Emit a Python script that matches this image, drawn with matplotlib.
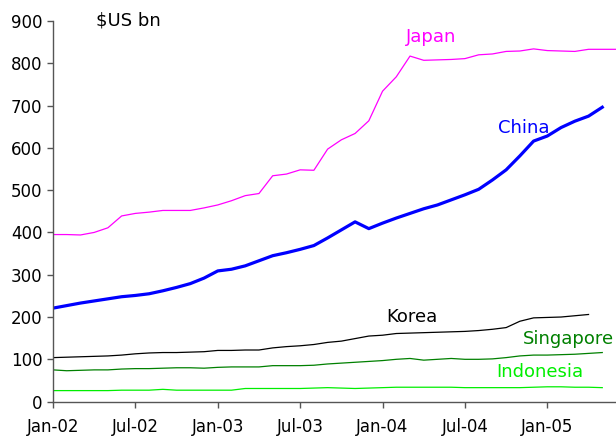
import matplotlib
matplotlib.use("Agg")
import matplotlib.pyplot as plt

# monthly reserves, $US bn, Jan-02 onward
months = list(range(42))
japan = [395, 395, 394, 400, 411, 439, 445, 448, 452, 452, 452, 458, 465, 475,
         487, 492, 534, 538, 548, 547, 597, 619, 634, 664, 734, 768, 817, 807,
         808, 809, 811, 820, 822, 828, 829, 834, 830, 829, 828, 833, 833, 833]
china = [221, 227, 233, 238, 243, 248, 251, 255, 262, 270, 279, 292, 309, 313,
         321, 333, 345, 352, 360, 369, 387, 406, 425, 409, 422, 434, 445, 456,
         465, 477, 489, 502, 524, 548, 581, 616, 628, 648, 663, 675, 696]
korea = [104, 105, 106, 107, 108, 110, 113, 115, 116, 116, 117, 118, 121, 121,
         122, 122, 127, 130, 132, 135, 140, 143, 149, 155, 157, 161, 162, 163,
         164, 165, 166, 168, 171, 175, 190, 198, 199, 200, 203, 206]
singapore = [75, 73, 74, 75, 75, 77, 78, 78, 79, 80, 80, 79, 81, 82, 82, 82,
             85, 85, 85, 86, 89, 91, 93, 95, 97, 100, 102, 98, 100, 102, 100,
             100, 101, 104, 108, 110, 110, 111, 112, 114, 116]
indonesia = [26, 26, 26, 26, 26, 27, 27, 27, 29, 27, 27, 27, 27, 27, 31, 31,
             31, 31, 31, 32, 33, 32, 31, 32, 33, 34, 34, 34, 34, 34, 33, 33,
             33, 33, 33, 34, 35, 35, 34, 34, 33]

tick_pos = [0, 6, 12, 18, 24, 30, 36]
tick_labels = ["Jan-02", "Jul-02", "Jan-03", "Jul-03", "Jan-04", "Jul-04", "Jan-05"]

plt.rcParams["font.family"] = "DejaVu Sans"
plt.rcParams["font.size"] = 12

fig = plt.figure(figsize=(6.16, 4.37), dpi=100)
ax = fig.add_axes([0.086, 0.081, 0.914, 0.871])

ax.plot(months[:len(japan)], japan, color="#FF00FF", lw=0.9)
ax.plot(months[:len(china)], china, color="#0000FF", lw=2.3)
ax.plot(months[:len(korea)], korea, color="black", lw=0.9)
ax.plot(months[:len(singapore)], singapore, color="#008000", lw=0.9)
ax.plot(months[:len(indonesia)], indonesia, color="#00EE00", lw=0.9)

# series labels
lbl = 13
ax.text(25.7, 862, "Japan", color="#FF00FF", va="center", fontsize=lbl)
ax.text(32.4, 646, "China", color="#0000FF", va="center", fontsize=lbl)
ax.text(24.3, 200, "Korea", color="black", va="center", fontsize=lbl)
ax.text(34.2, 148, "Singapore", color="#008000", va="center", fontsize=lbl)
ax.text(32.3, 70, "Indonesia", color="#00EE00", va="center", fontsize=lbl)
ax.text(3.1, 900, "$US bn", color="black", va="center", fontsize=lbl)

ax.set_xlim(0, 41)
ax.set_ylim(0, 900)
ax.set_yticks(range(0, 901, 100))
ax.set_xticks(tick_pos)
ax.set_xticklabels(tick_labels)

for s in ["top", "right"]:
    ax.spines[s].set_visible(False)
for s in ["left", "bottom"]:
    ax.spines[s].set_color("#555555")
    ax.spines[s].set_linewidth(1)
ax.tick_params(direction="out", length=4, width=1, color="#555555", labelcolor="black")
ax.tick_params(axis="x", pad=8)

fig.savefig("out.png", dpi=100)
